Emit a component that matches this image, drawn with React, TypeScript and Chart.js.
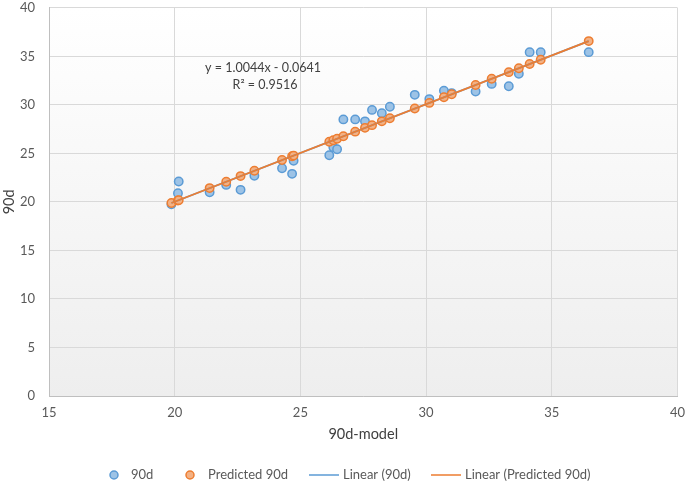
import React, { useEffect, useRef } from "react";
import { Chart, registerables } from "chart.js";

Chart.register(...registerables);

// ---- Data ----
const modelX = [
  19.87, 20.13, 20.16, 21.39, 22.05, 22.62, 23.17, 24.27, 24.67, 24.73,
  26.15, 26.31, 26.46, 26.71, 27.18, 27.57, 27.85, 28.24, 28.56, 29.55,
  30.13, 30.71, 31.02, 31.97, 32.61, 33.29, 33.69, 34.12, 34.56, 36.47,
];
const actual90d = [
  19.76, 20.9, 22.1, 21.0, 21.75, 21.24, 22.7, 23.47, 22.89, 24.23,
  24.81, 25.64, 25.43, 28.5, 28.5, 28.3, 29.48, 29.14, 29.8, 31.03,
  30.59, 31.45, 31.21, 31.37, 32.16, 31.92, 33.2, 35.43, 35.43, 35.43,
];
const predicted90d = [
  19.89, 20.15, 20.18, 21.42, 22.08, 22.66, 23.21, 24.31, 24.71, 24.77,
  26.2, 26.36, 26.51, 26.76, 27.24, 27.63, 27.91, 28.3, 28.62, 29.62,
  30.2, 30.78, 31.09, 32.05, 32.69, 33.37, 33.77, 34.21, 34.65, 36.57,
];
const trendX = [19.87, 36.47];
const trendActualY = [19.89, 36.57];
const trendPredictedY = [19.89, 36.57];

const xAxisRange = [15, 40];
const yAxisRange = [0, 40];
const tickStep = 5;

const xTitle = "90d-model";
const yTitle = "90d";
const equationLines = ["y = 1.0044x - 0.0641", "R\u00B2 = 0.9516"];
const legendLabels = ["90d", "Predicted 90d", "Linear (90d)", "Linear (Predicted 90d)"];

const FONT = "Lato, 'Open Sans', sans-serif";
const BLUE = "#5b9bd5";
const BLUE_FILL = "#9dc3e6";
const ORANGE = "#ed7d31";
const ORANGE_FILL = "#f4b183";
const TEXT = "#595959";
const CLEAR = "rgba(0,0,0,0)";

const toPoints = (xs: number[], ys: number[]) => xs.map((x, i) => ({ x, y: ys[i] }));

const bgPlugin = {
  id: "plotBg",
  beforeDraw(chart: any) {
    const { ctx, chartArea: a } = chart;
    if (!a) return;
    const g = ctx.createLinearGradient(0, a.top, 0, a.bottom);
    g.addColorStop(0, "#ffffff");
    g.addColorStop(1, "#eeeeee");
    ctx.save();
    ctx.fillStyle = g;
    ctx.fillRect(a.left, a.top, a.right - a.left, a.bottom - a.top);
    ctx.restore();
  },
};

const overlayPlugin = {
  id: "overlay",
  afterDraw(chart: any) {
    const { ctx } = chart;
    ctx.save();
    // trendline equation
    ctx.fillStyle = "#404040";
    ctx.font = `12.5px ${FONT}`;
    ctx.textAlign = "center";
    ctx.textBaseline = "middle";
    ctx.fillText(equationLines[0], 263, 68);
    ctx.fillText(equationLines[1], 265, 85);

    // legend
    const ly = 475;
    ctx.textAlign = "left";
    ctx.font = `13px ${FONT}`;
    const marker = (x: number, fill: string, stroke: string) => {
      ctx.beginPath();
      ctx.arc(x, ly, 4, 0, Math.PI * 2);
      ctx.fillStyle = fill;
      ctx.fill();
      ctx.lineWidth = 1.5;
      ctx.strokeStyle = stroke;
      ctx.stroke();
    };
    const line = (x0: number, x1: number, stroke: string) => {
      ctx.beginPath();
      ctx.moveTo(x0, ly);
      ctx.lineTo(x1, ly);
      ctx.lineWidth = 1.5;
      ctx.strokeStyle = stroke;
      ctx.stroke();
    };
    marker(114, BLUE_FILL, BLUE);
    marker(190, ORANGE_FILL, ORANGE);
    line(309, 339, BLUE);
    line(431, 461, ORANGE);
    ctx.fillStyle = TEXT;
    ctx.fillText(legendLabels[0], 131, ly);
    ctx.fillText(legendLabels[1], 208, ly);
    ctx.fillText(legendLabels[2], 343, ly);
    ctx.fillText(legendLabels[3], 465, ly);
    ctx.restore();
  },
};

export default function App() {
  const ref = useRef<HTMLCanvasElement | null>(null);

  useEffect(() => {
    document.body.style.margin = "0";
    if (!ref.current) return;
    const chart = new Chart(ref.current, {
      type: "scatter",
      data: {
        datasets: [
          {
            label: legendLabels[3],
            data: toPoints(trendX, trendPredictedY),
            showLine: true,
            borderColor: ORANGE,
            borderWidth: 1.75,
            pointRadius: 0,
            order: 0,
          },
          {
            label: legendLabels[2],
            data: toPoints(trendX, trendActualY),
            showLine: true,
            borderColor: BLUE,
            borderWidth: 1.75,
            pointRadius: 0,
            order: 1,
          },
          {
            label: legendLabels[1],
            data: toPoints(modelX, predicted90d),
            backgroundColor: ORANGE_FILL,
            borderColor: ORANGE,
            borderWidth: 1.5,
            pointRadius: 4.2,
            order: 2,
          },
          {
            label: legendLabels[0],
            data: toPoints(modelX, actual90d),
            backgroundColor: BLUE_FILL,
            borderColor: BLUE,
            borderWidth: 1.5,
            pointRadius: 4.2,
            order: 3,
          },
        ],
      },
      options: {
        animation: false,
        responsive: true,
        maintainAspectRatio: false,
        layout: { padding: 0 },
        plugins: { legend: { display: false }, tooltip: { enabled: false } },
        scales: {
          x: {
            type: "linear",
            min: xAxisRange[0],
            max: xAxisRange[1],
            ticks: { stepSize: tickStep, color: TEXT, padding: 0, font: { family: FONT, size: 13 } },
            grid: { color: "#d9d9d9", drawTicks: true, tickLength: 9, tickColor: CLEAR },
            border: { color: "#bfbfbf" },
            title: {
              display: true,
              text: xTitle,
              color: "#404040",
              font: { family: FONT, size: 14.5 },
              padding: { top: 0, bottom: 41 },
            },
            afterFit: (s: any) => {
              s.height = 88;
            },
          },
          y: {
            type: "linear",
            min: yAxisRange[0],
            max: yAxisRange[1],
            ticks: { stepSize: tickStep, color: TEXT, padding: 0, font: { family: FONT, size: 13 } },
            grid: { color: "#d9d9d9", drawTicks: true, tickLength: 14, tickColor: CLEAR },
            border: { color: "#bfbfbf" },
            title: {
              display: true,
              text: yTitle,
              color: "#404040",
              font: { family: FONT, size: 14.5 },
              padding: { top: 1, bottom: 0 },
            },
            afterFit: (s: any) => {
              s.width = 49;
            },
          },
        },
      },
      plugins: [bgPlugin, overlayPlugin],
    });
    return () => chart.destroy();
  }, []);

  return (
    <div style={{ width: 685, height: 484, position: "relative" }}>
      <canvas ref={ref} />
    </div>
  );
}
